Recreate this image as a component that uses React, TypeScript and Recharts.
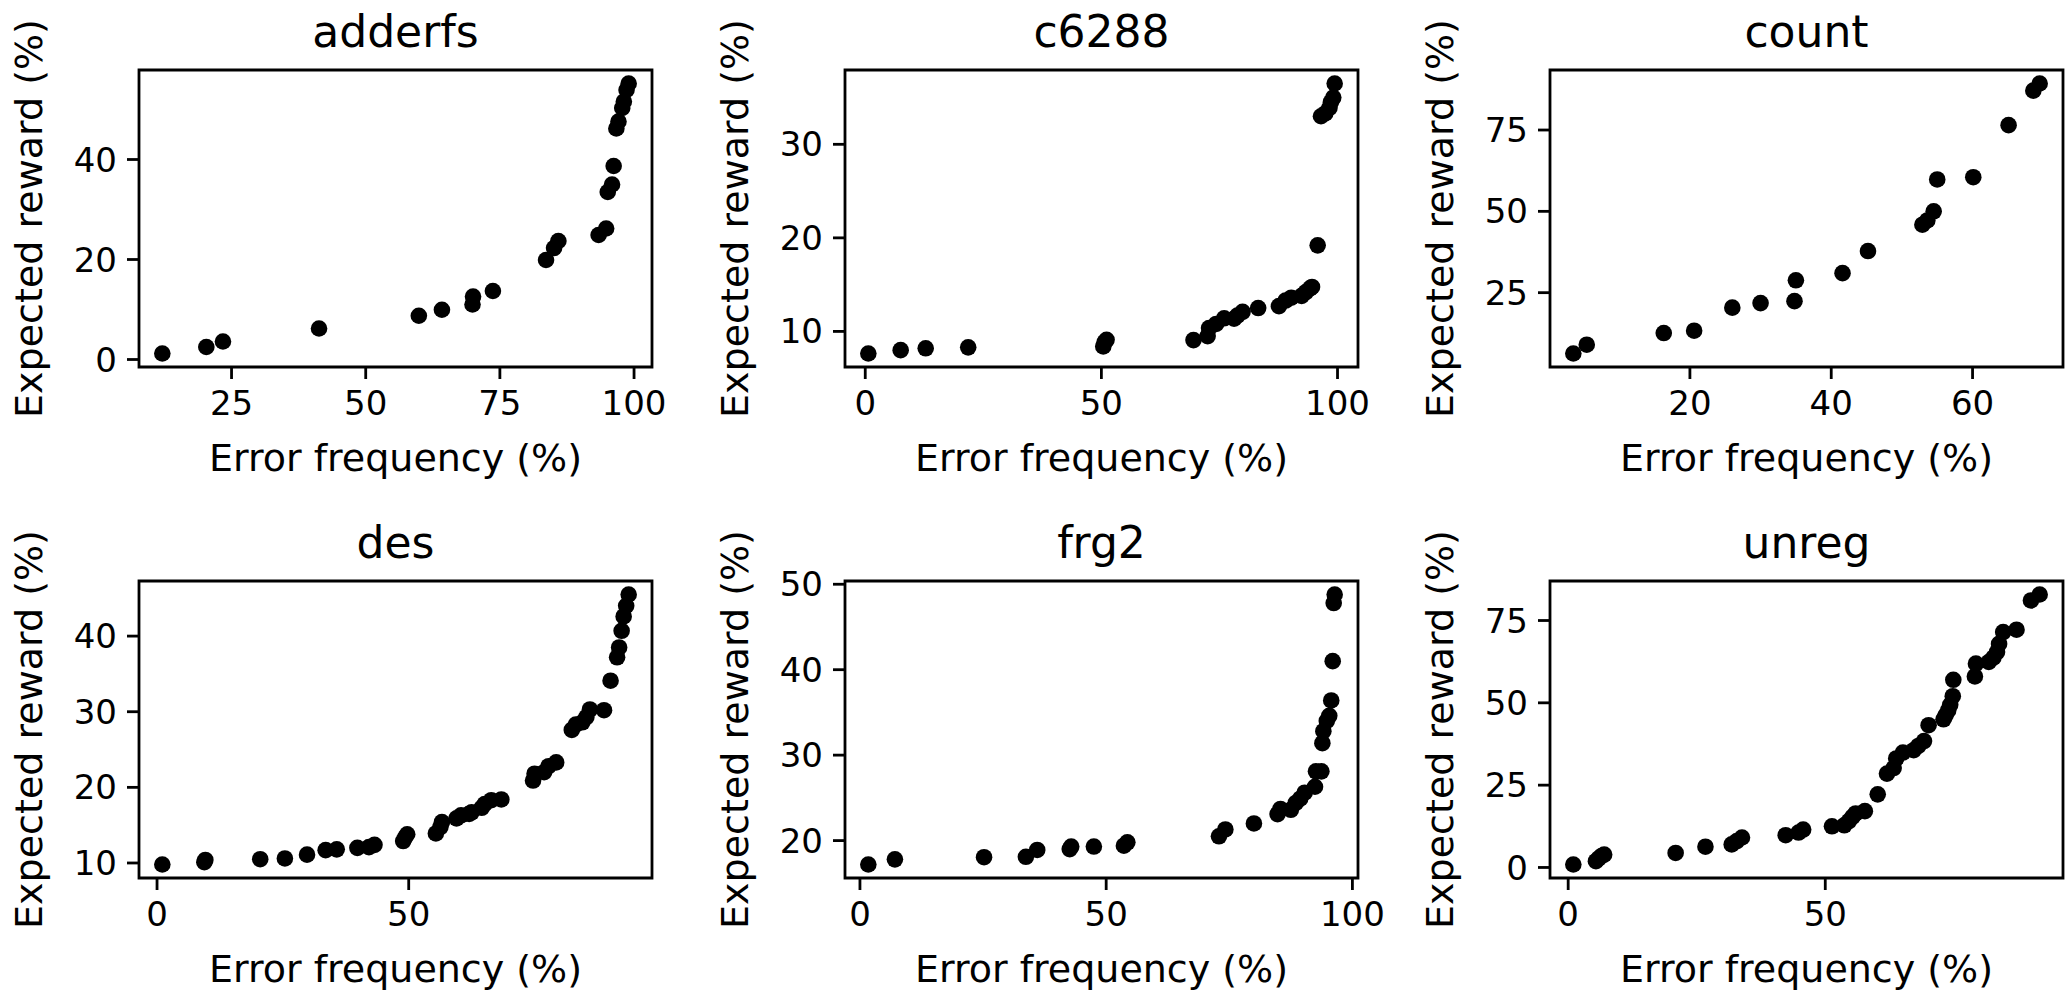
import React from "react";
import { ScatterChart, Scatter, XAxis, YAxis, ReferenceArea } from "recharts";

// Error frequency (%) / expected reward (%) per circuit.
const ADDERFS_X = [12.1, 20.3, 23.4, 41.3, 59.9, 64.2, 69.9, 70.0, 73.7, 83.6, 85.1, 85.9, 93.4, 94.8, 95.1, 95.9, 96.2, 96.7, 97.1, 97.8, 98.1, 98.6, 99.0];
const ADDERFS_Y = [1.2, 2.5, 3.6, 6.2, 8.75, 9.95, 11.0, 12.6, 13.7, 19.9, 22.3, 23.7, 24.9, 26.2, 33.5, 35.0, 38.7, 46.2, 47.6, 50.3, 51.6, 53.9, 55.2];

const C6288_X = [0.65, 7.5, 12.8, 21.8, 50.4, 50.7, 51.1, 69.5, 72.5, 72.8, 74.3, 76.0, 78.1, 78.8, 79.9, 83.2, 87.6, 89.0, 90.2, 92.4, 93.3, 94.2, 94.6, 95.8, 96.5, 97.4, 98.3, 98.6, 99.1, 99.4];
const C6288_Y = [7.64, 8.0, 8.2, 8.3, 8.4, 8.86, 9.1, 9.07, 9.5, 10.36, 10.8, 11.4, 11.36, 11.7, 12.1, 12.5, 12.7, 13.3, 13.6, 13.8, 14.2, 14.6, 14.75, 19.2, 33.0, 33.3, 33.9, 34.5, 35.0, 36.5];

const COUNT_X = [3.5, 5.4, 16.3, 20.6, 26.0, 30.0, 34.8, 35.0, 41.6, 45.2, 52.9, 53.6, 54.5, 55.0, 60.1, 65.1, 68.6, 69.5];
const COUNT_Y = [6.3, 9.0, 12.6, 13.3, 20.4, 21.8, 22.4, 28.8, 31.0, 37.8, 45.9, 47.2, 50.0, 59.8, 60.5, 76.5, 87.1, 89.3];

const DES_X = [1.05, 9.4, 9.6, 20.5, 25.4, 29.8, 33.5, 35.7, 39.8, 42.1, 43.2, 48.9, 49.3, 49.7, 55.4, 56.3, 56.6, 59.5, 60.4, 62.0, 62.5, 64.5, 65.1, 66.4, 68.4, 74.7, 75.0, 76.9, 77.8, 79.3, 82.4, 83.2, 84.5, 85.3, 86.0, 88.8, 90.1, 91.4, 91.8, 92.3, 92.7, 93.2, 93.7];
const DES_Y = [9.8, 10.1, 10.4, 10.5, 10.6, 11.1, 11.7, 11.8, 12.0, 12.1, 12.4, 12.9, 13.4, 13.8, 13.9, 14.75, 15.4, 15.9, 16.3, 16.5, 16.7, 17.3, 17.8, 18.3, 18.4, 20.9, 21.8, 22.0, 22.8, 23.3, 27.6, 28.3, 28.6, 29.3, 30.3, 30.2, 34.1, 37.2, 38.5, 40.7, 42.6, 44.0, 45.5];

const FRG2_X = [1.7, 7.1, 25.2, 33.7, 36.0, 42.6, 42.9, 47.5, 53.6, 54.3, 72.9, 74.2, 80.0, 84.8, 85.4, 87.5, 88.5, 89.4, 90.3, 92.4, 92.6, 93.7, 93.9, 94.1, 94.8, 95.3, 95.7, 96.0, 96.2, 96.4];
const FRG2_Y = [17.2, 17.8, 18.05, 18.1, 18.9, 19.0, 19.3, 19.3, 19.4, 19.8, 20.5, 21.3, 22.0, 23.1, 23.7, 23.6, 24.4, 24.9, 25.6, 26.3, 28.1, 28.1, 31.4, 32.8, 34.0, 34.6, 36.4, 41.0, 47.8, 48.8];

const UNREG_X = [1.0, 5.4, 5.9, 6.5, 7.0, 20.9, 26.7, 31.8, 32.8, 33.8, 42.3, 44.8, 45.7, 51.3, 53.7, 54.6, 55.3, 55.9, 57.7, 60.2, 62.0, 63.3, 63.8, 65.1, 67.2, 68.1, 69.2, 70.1, 73.0, 73.4, 73.9, 74.3, 74.8, 74.9, 79.1, 79.3, 81.8, 82.7, 83.4, 83.8, 84.6, 87.2, 90.0, 91.7];
const UNREG_Y = [0.9, 1.9, 2.7, 3.5, 3.9, 4.4, 6.3, 7.0, 8.0, 9.1, 9.8, 10.6, 11.5, 12.5, 12.8, 14.1, 15.4, 16.4, 17.1, 22.2, 28.5, 30.2, 33.1, 34.9, 35.6, 36.9, 38.4, 43.2, 45.0, 46.2, 47.7, 49.4, 52.0, 57.0, 58.0, 61.9, 62.4, 63.7, 65.4, 67.9, 71.5, 72.2, 81.1, 82.9];

const ADDERFS_XTICKS = [25, 50, 75, 100];
const ADDERFS_YTICKS = [0, 20, 40];
const C6288_XTICKS = [0, 50, 100];
const C6288_YTICKS = [10, 20, 30];
const COUNT_XTICKS = [20, 40, 60];
const COUNT_YTICKS = [25, 50, 75];
const DES_XTICKS = [0, 50];
const DES_YTICKS = [10, 20, 30, 40];
const FRG2_XTICKS = [0, 50, 100];
const FRG2_YTICKS = [20, 30, 40, 50];
const UNREG_XTICKS = [0, 50];
const UNREG_YTICKS = [0, 25, 50, 75];

const PANELS = [
  { title: "adderfs", xs: ADDERFS_X, ys: ADDERFS_Y, xTicks: ADDERFS_XTICKS, yTicks: ADDERFS_YTICKS, row: 0, col: 0 },
  { title: "c6288", xs: C6288_X, ys: C6288_Y, xTicks: C6288_XTICKS, yTicks: C6288_YTICKS, row: 0, col: 1 },
  { title: "count", xs: COUNT_X, ys: COUNT_Y, xTicks: COUNT_XTICKS, yTicks: COUNT_YTICKS, row: 0, col: 2 },
  { title: "des", xs: DES_X, ys: DES_Y, xTicks: DES_XTICKS, yTicks: DES_YTICKS, row: 1, col: 0 },
  { title: "frg2", xs: FRG2_X, ys: FRG2_Y, xTicks: FRG2_XTICKS, yTicks: FRG2_YTICKS, row: 1, col: 1 },
  { title: "unreg", xs: UNREG_X, ys: UNREG_Y, xTicks: UNREG_XTICKS, yTicks: UNREG_YTICKS, row: 1, col: 2 },
];

const FONT = "'DejaVu Sans', sans-serif";
const TICK_FONT = 34;
const LABEL_FONT = 38;
const TITLE_FONT = 44;

// plot box geometry, in page pixels
const BOX_W = 513;
const BOX_H = 297;
const COL_LEFT = [139, 845, 1550];
const ROW_TOP = [70, 581];
const Y_AXIS_W = 139;
const X_AXIS_H = 115;
const TOP_PAD = 70;
const RIGHT_PAD = 50;
const CHART_W = Y_AXIS_W + BOX_W + RIGHT_PAD;
const CHART_H = TOP_PAD + BOX_H + X_AXIS_H;
const LINE_W = 2.8;

// matplotlib-style autoscale: data range plus 5% on each side
function padded(vals: number[]): [number, number] {
  const lo = Math.min(...vals);
  const hi = Math.max(...vals);
  const pad = (hi - lo) * 0.05;
  return [lo - pad, hi + pad];
}

const Dot = (p: any) => <circle cx={p.cx} cy={p.cy} r={8.3} fill="#000" />;

function Panel({ panel }: { panel: (typeof PANELS)[number] }) {
  const xDomain = padded(panel.xs);
  const yDomain = padded(panel.ys);
  const data = panel.xs.map((x, i) => ({ x, y: panel.ys[i] }));
  const left = COL_LEFT[panel.col] - Y_AXIS_W;
  const top = ROW_TOP[panel.row] - TOP_PAD;
  const tick = { fill: "#000", fontSize: TICK_FONT, fontFamily: FONT };

  return (
    <div style={{ position: "absolute", left, top, width: CHART_W, height: CHART_H }}>
      <div
        style={{
          position: "absolute",
          left: Y_AXIS_W,
          width: BOX_W,
          top: TOP_PAD - 23 - 37.5,
          fontFamily: FONT,
          fontSize: TITLE_FONT,
          lineHeight: `${TITLE_FONT}px`,
          textAlign: "center",
          color: "#000",
        }}
      >
        {panel.title}
      </div>
      <ScatterChart width={CHART_W} height={CHART_H} margin={{ top: TOP_PAD, right: RIGHT_PAD, bottom: 0, left: 0 }}>
        <ReferenceArea
          x1={xDomain[0]}
          x2={xDomain[1]}
          y1={yDomain[0]}
          y2={yDomain[1]}
          fill="none"
          stroke="#000"
          strokeWidth={LINE_W}
          fillOpacity={0}
        />
        <XAxis
          type="number"
          dataKey="x"
          domain={xDomain}
          ticks={panel.xTicks}
          allowDataOverflow
          height={X_AXIS_H}
          axisLine={false}
          tickLine={{ stroke: "#000", strokeWidth: LINE_W }}
          tickSize={12}
          tickMargin={12}
          tick={tick}
          label={{
            content: (p: any) => {
              const vb = p.viewBox;
              return (
                <text x={vb.x + vb.width / 2} y={vb.y + 104} textAnchor="middle" fontSize={LABEL_FONT} fontFamily={FONT} fill="#000">
                  Error frequency (%)
                </text>
              );
            },
          }}
        />
        <YAxis
          type="number"
          dataKey="y"
          domain={yDomain}
          ticks={panel.yTicks}
          allowDataOverflow
          width={Y_AXIS_W}
          axisLine={false}
          tickLine={{ stroke: "#000", strokeWidth: LINE_W }}
          tickSize={12}
          tickMargin={10}
          tick={tick}
          label={{
            content: (p: any) => {
              const vb = p.viewBox;
              const bx = vb.x + vb.width - 97;
              const cy = vb.y + vb.height / 2;
              return (
                <text x={bx} y={cy} transform={`rotate(-90, ${bx}, ${cy})`} textAnchor="middle" fontSize={LABEL_FONT} fontFamily={FONT} fill="#000">
                  Expected reward (%)
                </text>
              );
            },
          }}
        />
        <Scatter data={data} fill="#000" shape={Dot} isAnimationActive={false} />
      </ScatterChart>
    </div>
  );
}

export default function App() {
  return (
    <div style={{ position: "absolute", left: 0, top: 0, width: 2068, height: 992, background: "#fff", overflow: "hidden" }}>
      {PANELS.map((p) => (
        <Panel key={p.title} panel={p} />
      ))}
    </div>
  );
}
